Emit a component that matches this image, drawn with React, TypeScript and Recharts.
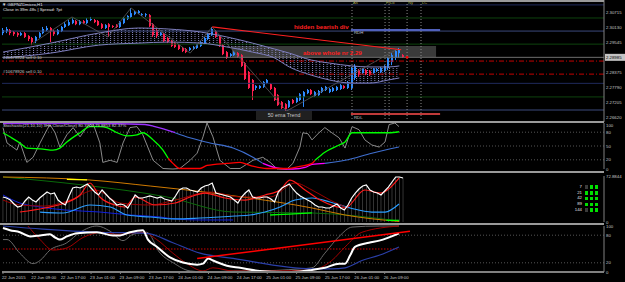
import React from 'react';
import {
  ComposedChart,
  Bar,
  Line,
  Area,
  XAxis,
  YAxis,
  ReferenceLine,
  ReferenceArea,
  ReferenceDot,
} from 'recharts';

// H1 bars, bar 0 = 22 Jun 01:00
const timeTicks = [0, 8, 16, 24, 32, 40, 48, 56, 64, 72, 80, 88, 96, 104];
const timeLabels = [
  '22 Jun 2015', '22 Jun 09:00', '22 Jun 17:00', '23 Jun 01:00', '23 Jun 09:00',
  '23 Jun 17:00', '24 Jun 01:00', '24 Jun 09:00', '24 Jun 17:00', '25 Jun 01:00',
  '25 Jun 09:00', '25 Jun 17:00', '26 Jun 01:00', '26 Jun 09:00',
];

// ---- GBPNZD H1 candles ----
const opens = [
  2.2993, 2.3001, 2.3005, 2.2997, 2.2993, 2.2985, 2.2993, 2.2982, 2.2974, 2.2962,
  2.2978, 2.2993, 2.3005, 2.3013, 2.3001, 2.2989, 2.3001, 2.3017, 2.3024, 2.3032,
  2.3040, 2.3028, 2.3040, 2.3032, 2.3044, 2.3044, 2.3040, 2.3028, 2.3013, 2.3028,
  2.3021, 2.3024, 2.3017, 2.3032, 2.3048, 2.3056, 2.3067, 2.3071, 2.3063, 2.3063,
  2.3063, 2.3028, 2.3005, 2.2985, 2.2989, 2.2974, 2.2962, 2.2954, 2.2946, 2.2935,
  2.2931, 2.2927, 2.2931, 2.2935, 2.2943, 2.2954, 2.2970, 2.2985, 2.3001, 2.2978,
  2.2946, 2.2919, 2.2904, 2.2907, 2.2915, 2.2907, 2.2876, 2.2841, 2.2810, 2.2779,
  2.2779, 2.2783, 2.2798, 2.2794, 2.2779, 2.2751, 2.2724, 2.2716, 2.2705, 2.2732,
  2.2724, 2.2732, 2.2744, 2.2759, 2.2771, 2.2748, 2.2751, 2.2763, 2.2771, 2.2763,
  2.2767, 2.2771, 2.2775, 2.2787, 2.2779, 2.2779, 2.2818, 2.2849, 2.2837, 2.2849,
  2.2845, 2.2837, 2.2845, 2.2841, 2.2845, 2.2857, 2.2880, 2.2896, 2.2915, 2.2907,
];
const highs = [
  2.3013, 2.3017, 2.3009, 2.3001, 2.2997, 2.2997, 2.2997, 2.2985, 2.2978, 2.2982,
  2.2997, 2.3017, 2.3021, 2.3017, 2.3005, 2.3009, 2.3021, 2.3036, 2.3044, 2.3052,
  2.3044, 2.3044, 2.3044, 2.3052, 2.3056, 2.3048, 2.3044, 2.3032, 2.3028, 2.3032,
  2.3024, 2.3028, 2.3040, 2.3056, 2.3063, 2.3091, 2.3079, 2.3083, 2.3071, 2.3071,
  2.3067, 2.3032, 2.3009, 2.2997, 2.2993, 2.2978, 2.2966, 2.2958, 2.2950, 2.2939,
  2.2935, 2.2939, 2.2943, 2.2950, 2.2962, 2.2978, 2.2993, 2.3017, 2.3005, 2.2982,
  2.2950, 2.2923, 2.2915, 2.2923, 2.2919, 2.2911, 2.2880, 2.2845, 2.2814, 2.2790,
  2.2790, 2.2806, 2.2814, 2.2798, 2.2783, 2.2755, 2.2728, 2.2720, 2.2732, 2.2736,
  2.2744, 2.2759, 2.2767, 2.2775, 2.2775, 2.2767, 2.2771, 2.2783, 2.2787, 2.2779,
  2.2783, 2.2787, 2.2794, 2.2790, 2.2806, 2.2861, 2.2872, 2.2853, 2.2857, 2.2853,
  2.2849, 2.2857, 2.2857, 2.2861, 2.2868, 2.2900, 2.2915, 2.2927, 2.2935, 2.2911,
];
const lows = [
  2.2985, 2.2993, 2.2985, 2.2982, 2.2978, 2.2982, 2.2974, 2.2962, 2.2946, 2.2954,
  2.2974, 2.2989, 2.3001, 2.2958, 2.2982, 2.2985, 2.2997, 2.3013, 2.3021, 2.3028,
  2.3024, 2.3024, 2.3028, 2.3028, 2.3040, 2.3032, 2.3021, 2.3009, 2.3009, 2.2978,
  2.3013, 2.3013, 2.3013, 2.3028, 2.3044, 2.3052, 2.3063, 2.3067, 2.3060, 2.3056,
  2.3017, 2.2978, 2.2974, 2.2982, 2.2958, 2.2954, 2.2939, 2.2935, 2.2927, 2.2919,
  2.2915, 2.2923, 2.2927, 2.2931, 2.2939, 2.2950, 2.2966, 2.2982, 2.2974, 2.2939,
  2.2907, 2.2892, 2.2900, 2.2904, 2.2896, 2.2861, 2.2810, 2.2775, 2.2732, 2.2771,
  2.2775, 2.2779, 2.2794, 2.2771, 2.2728, 2.2709, 2.2697, 2.2689, 2.2701, 2.2716,
  2.2720, 2.2728, 2.2705, 2.2755, 2.2751, 2.2744, 2.2748, 2.2759, 2.2767, 2.2759,
  2.2763, 2.2767, 2.2771, 2.2775, 2.2775, 2.2771, 2.2810, 2.2822, 2.2833, 2.2829,
  2.2826, 2.2833, 2.2841, 2.2837, 2.2841, 2.2849, 2.2868, 2.2888, 2.2896, 2.2896,
];
const closes = [
  2.3005, 2.3009, 2.2993, 2.2989, 2.2985, 2.2993, 2.2978, 2.2970, 2.2958, 2.2978,
  2.2993, 2.3009, 2.3013, 2.3001, 2.2989, 2.3005, 2.3017, 2.3028, 2.3036, 2.3044,
  2.3028, 2.3040, 2.3032, 2.3044, 2.3048, 2.3036, 2.3024, 2.3013, 2.3024, 2.3017,
  2.3017, 2.3017, 2.3036, 2.3052, 2.3060, 2.3071, 2.3075, 2.3079, 2.3067, 2.3067,
  2.3021, 2.2985, 2.2982, 2.2993, 2.2962, 2.2958, 2.2943, 2.2939, 2.2931, 2.2923,
  2.2919, 2.2935, 2.2939, 2.2946, 2.2958, 2.2974, 2.2989, 2.3009, 2.2978, 2.2943,
  2.2911, 2.2896, 2.2911, 2.2919, 2.2900, 2.2865, 2.2814, 2.2779, 2.2767, 2.2787,
  2.2787, 2.2802, 2.2810, 2.2775, 2.2732, 2.2712, 2.2701, 2.2697, 2.2728, 2.2720,
  2.2740, 2.2755, 2.2763, 2.2771, 2.2755, 2.2763, 2.2767, 2.2779, 2.2783, 2.2775,
  2.2779, 2.2783, 2.2790, 2.2779, 2.2802, 2.2857, 2.2865, 2.2829, 2.2853, 2.2833,
  2.2829, 2.2853, 2.2853, 2.2857, 2.2865, 2.2896, 2.2907, 2.2923, 2.2927, 2.2899,
];

const priceTicks = [2.2662, 2.27205, 2.2779, 2.28375, 2.28985, 2.29545, 2.3013, 2.30715];
const bidPrice = 2.28985;

// cloud band (upper / lower edge) keypoints by bar index
const cloudX = [0, 13, 26, 37, 45, 54, 61, 68, 74, 78, 84, 89, 95, 100, 105, 108];
const cloudHi = [2.2919, 2.2954, 2.2993, 2.3013, 2.3009, 2.2997, 2.2978, 2.2954, 2.2931, 2.2915, 2.2888, 2.2876, 2.2865, 2.2861, 2.2861, 2.2865];
const cloudLo = [2.2896, 2.2915, 2.2946, 2.2954, 2.2958, 2.2954, 2.2939, 2.2919, 2.2896, 2.2861, 2.2829, 2.2810, 2.2798, 2.2798, 2.2810, 2.2818];

const zigzagX = [8.2, 18.8, 28.6, 34.9, 51, 57, 77.3, 107.5];
const zigzagP = [2.2954, 2.3056, 2.2978, 2.3091, 2.2915, 2.3017, 2.2689, 2.2931];

const navyLevels = [2.3103, 2.2797];
const greenLevels = [2.3052, 2.295, 2.2744];
const slateLevels = [2.3001, 2.2693];
const sellOrders = [2.2884, 2.2833];
const rdh = 2.3005;
const rdl = 2.2677;
const sessionX = [95.1, 104.1, 105.2, 110.1, 113.9];
const sessionNames = ['As', 'Fr', 'Lo', 'Ny', 'LC'];

// ---- stochastic panel ----
const stochFastX = [0, 1.1, 3.8, 4.6, 6.5, 8.2, 10.1, 12, 12.8, 14.2, 15.5, 17.4, 19.1, 21, 22.9, 24.5, 26.4, 27.2, 29.2, 31.1, 32.7, 34.6, 36.5, 38.1, 40.9, 43.6, 46.3, 48.2, 51, 52.9, 54.5, 55.6, 57.2, 59.1, 61.9, 64.6, 68.1, 70.8, 72.8, 74.7, 77.4, 79, 80.9, 81.7, 83.1, 84.2, 86.1, 87.7, 89.6, 91.6, 93.2, 95.1, 97, 98.6, 100.5, 102.5, 104.1, 105.2, 106.8, 107.9];
const stochFastV = [90, 56.6, 41.1, 58.8, 14.4, 25.5, 56.6, 85.5, 96.6, 78.8, 47.7, 74.4, 90, 70, 92.1, 100, 56.6, 14.4, 18.9, 14.4, 56.6, 90, 92.1, 74.4, 18.9, 1.1, 0, 1.1, 18.9, 34.4, 70, 100, 70, 18.9, 1.1, 1.1, 18.9, 25.5, 14.4, 0, 0, 12.2, 47.7, 78.8, 76.6, 63.3, 78.8, 90, 78.8, 67.7, 45.5, 92.1, 85.5, 63.3, 52.2, 47.7, 58.8, 96.6, 100, 92.1];
const stochMainX = [0, 1.9, 4.6, 6.5, 10.9, 13.6, 15.5, 17.4, 21, 23.7, 26.4, 28.3, 31.1, 33.8, 36.5, 38.1, 40.9, 43.6, 45, 46.3, 48.2, 53.7, 55.6, 61, 64.6, 67.3, 71.9, 77.4, 80.9, 84.2, 85, 87.7, 91.6, 93.2, 95.1, 97.8, 105.2, 107.9];
const stochMainV = [78.8, 70, 56.6, 45.5, 43.3, 41.1, 45.5, 58.8, 78.8, 92.1, 92.1, 89.9, 78.8, 72.2, 74.4, 78.8, 63.3, 41.1, 23.3, 12.2, 1.1, 1.1, 7.8, 12.2, 14.4, 7.8, 1.1, 1.1, 5.6, 12.2, 18.9, 36.6, 52.2, 58.8, 78.8, 78.8, 78.8, 81];
const stochSlowX = [0, 13.6, 26.4, 38.7, 41.4, 46.9, 50.9, 56.4, 62.7, 68.1, 70.8, 75.5, 79, 82.3, 84.2, 87.7, 93.2, 100.5, 107.9];
const stochSlowV = [98.9, 98.9, 98.9, 96.7, 92.2, 78.9, 67.8, 56.7, 45.6, 25.6, 12.2, 1.1, 0, 3.3, 10, 12.2, 18.9, 34.4, 47.8];
const stochLevels = [20, 50, 80];

// ---- strength histogram panel ----
const histValues = [
  39.6, 38.0, 34.8, 28.5, 23.8, 25.3, 33.3, 39.6, 34.8, 31.7,
  38.0, 42.8, 47.5, 44.4, 45.9, 34.8, 30.1, 26.9, 41.2, 53.9,
  55.4, 53.9, 57.0, 60.2, 53.9, 47.5, 42.8, 50.7, 44.4, 38.0,
  33.3, 26.9, 28.5, 26.9, 22.2, 31.7, 42.8, 38.0, 38.0, 39.6,
  41.2, 39.6, 38.0, 39.6, 36.4, 34.8, 33.3, 41.2, 50.7, 53.9,
  53.9, 50.7, 49.1, 47.5, 53.9, 57.0, 58.6, 61.8, 45.9, 44.4,
  42.8, 41.2, 39.6, 34.8, 30.1, 39.6, 45.9, 50.7, 39.6, 38.0,
  38.0, 39.6, 39.6, 36.4, 31.7, 47.5, 53.9, 57.0, 60.2, 52.3,
  45.9, 41.2, 38.0, 34.8, 31.7, 26.9, 23.8, 23.8, 22.2, 22.2,
  25.3, 28.5, 22.2, 19.0, 26.9, 38.0, 45.9, 52.3, 57.0, 58.6,
  50.7, 47.5, 45.9, 42.8, 49.1, 55.4, 63.4, 71.3, 71.3, 69.7,
];
const histMax = 72.8844;
const redX = [4.6, 11.4, 16.9, 21, 23.7, 26.4, 30.5, 33.2, 36, 41.4, 46.9, 51, 55, 60.5, 65.9, 71.4, 75.5, 78.2, 82.3, 86.4, 93.2, 98.6, 102.7, 107.9];
const redV = [15.8, 22.2, 30.1, 42.8, 61.8, 39.6, 26.9, 23.8, 39.6, 26.9, 30.1, 39.6, 45.9, 38.0, 34.8, 42.8, 50.7, 66.5, 50.7, 34.8, 22.2, 50.7, 45.9, 69.7];
const darkRedX = [0, 4.6, 11.4, 18.3, 25.1, 31.9, 40.1, 46.9, 56.4, 64.6, 72.8, 79.6, 84.2, 89.1, 93.2];
const darkRedV = [34.8, 26.9, 25.3, 34.8, 50.7, 30.1, 26.9, 34.8, 47.5, 39.6, 39.6, 61.8, 50.7, 34.8, 23.8];
const navyX = [0, 4.6, 10.1, 16.9, 26.4, 34.6, 42.8, 46.9, 53.7, 62.7];
const navyV = [42.8, 30.1, 23.8, 19.0, 15.8, 11.1, 7.9, 4.8, 3.2, 3.2];
const skyX = [10.1, 16.4, 23.7, 29.2, 33.8, 40.1, 46.9, 53.7, 63.2, 67.3, 71.4, 75.5, 79.6, 84.2, 89.1, 94.6, 100.5, 104.1, 107.9];
const skyV = [15.8, 14.3, 26.9, 23.8, 11.1, 7.9, 4.8, 6.3, 9.5, 11.1, 15.8, 23.8, 34.8, 38.0, 31.7, 22.2, 15.8, 15.8, 28.5];
const orangeX = [0, 23.7, 40.1, 57.2, 67.3, 84.2, 93.2, 107.9];
const orangeV = [71.3, 66.5, 57.0, 45.9, 38.0, 22.2, 11.1, 0.8];
const darkGreenX = [0, 21.8, 44.7, 62.7, 84.2, 107.9];
const darkGreenV = [71.3, 58.6, 39.6, 15.8, 14.3, 1.6];
const limeX = [72.8, 78, 84.2];
const limeV = [11.1, 12.5, 14.3];
const limeEndX = [104.5, 107.9];
const limeEndV = [2.6, 2.6];
const yellowX = [17.4, 22.9];
const yellowV = [67.5, 66.8];
const maPeriods = ['7', '21', '42', '89', '144'];
const maUp = [
  [false, true, true],
  [true, true, true],
  [true, true, true],
  [true, true, true],
  [false, true, true],
];

// ---- RSI-style bottom panel ----
const whiteX = [0, 1.9, 4.6, 7.4, 10.1, 12.8, 14.2, 15.5, 17.4, 20.2, 25.6, 30, 31.9, 34.6, 38.1, 39.5, 42, 45.5, 49, 52.9, 54.5, 55.9, 57.2, 61, 64.6, 70, 76.3, 80.9, 84.2, 87.7, 91.6, 93.2, 94.6, 95.9, 99.7, 102.5, 107.9];
const whiteV = [95.5, 90.9, 86.4, 77.3, 79.5, 81.8, 75, 70.5, 77.3, 84.1, 86.4, 79.5, 79.5, 86.4, 90.9, 70.5, 54.5, 31.8, 20.5, 15.9, 18.2, 29.5, 25, 13.6, 9.1, 2.3, 0, 1.1, 4.5, 9.1, 18.2, 18.2, 36.4, 54.5, 63.6, 68.2, 84.1];
const blueX = [0, 10.9, 26.4, 39.2, 46.3, 53.7, 62.7, 84.2, 89.6, 93.2, 97.8, 102.5, 107.9];
const blueV = [100, 93.2, 86.4, 84.1, 63.6, 40.9, 29.5, 6.8, 6.8, 9.1, 25, 36.4, 54.5];
const maroonX = [6.8, 10.1, 13.6, 17.4, 21.8, 27.2, 31.1, 38.1, 41.9, 46.3, 50.1, 54.5, 57.2, 62.7, 72.8, 84.2, 89.6, 93.2, 97.8, 107.9];
const maroonV = [100, 70.5, 47.7, 52.3, 75, 86.4, 81.8, 86.4, 70.5, 40.9, 18.2, 2.3, 9.1, 2.3, 2.3, 4.5, 25, 54.5, 86.4, 100];
const grayX = [0, 1.1, 4.6, 8.2, 10.1, 12.8, 17.4, 21, 25.6, 29.2, 32.7, 35.4, 39.2, 42.8, 46.3, 51, 55.6, 62.7, 68.1, 80.9, 84.2, 87.7, 91.6, 95.1, 102.5, 107.9];
const grayV = [70.5, 70.5, 40.9, 18.2, 25, 47.7, 63.6, 86.4, 100, 88.6, 68.2, 81.8, 86.4, 40.9, 20.5, 2.3, 0, 2.3, 2.3, 6.8, 9.1, 40.9, 77.3, 97.7, 100, 100];
const trendFrom = { i: 52.9, v: 29.5 };
const trendTo = { i: 110.9, v: 88.6 };

const FONT = '"Liberation Sans", Arial, sans-serif';
const AXIS_TEXT = '#c8c8c8';
const X_DOMAIN: [number, number] = [-0.27, 163.76];
const LINE_OFF = { dot: false, activeDot: false, isAnimationActive: false } as const;

type Row = { i: number; v: number };
const toRows = (xs: number[], vs: number[]): Row[] => xs.map((i, k) => ({ i, v: vs[k] }));
const between = (rows: Row[], a: number, b: number) => rows.filter((r) => r.i >= a && r.i <= b);

const candleRows = opens.map((o, i) => ({ i, o, h: highs[i], l: lows[i], c: closes[i] }));
const cloudRows = cloudX.map((i, k) => ({ i, lo: cloudLo[k], hi: cloudHi[k] }));
const histRows = histValues.map((v, i) => ({ i, v }));
const stochMain = toRows(stochMainX, stochMainV);
const stochSlow = toRows(stochSlowX, stochSlowV);

function Candle(props: any) {
  const { x, y, width, height, payload } = props;
  if (!payload || x == null) return null;
  const top = Math.min(y, y + height);
  const bottom = Math.max(y, y + height);
  const range = payload.h - payload.l;
  const k = range > 0 ? (bottom - top) / range : 0;
  const yOpen = top + (payload.h - payload.o) * k;
  const yClose = top + (payload.h - payload.c) * k;
  const color = payload.c >= payload.o ? '#2e8bff' : '#ff1f4f';
  const cx = Math.round(x + width / 2);
  return (
    <g>
      <line x1={cx - 0.5} x2={cx - 0.5} y1={top} y2={bottom} stroke={color} strokeWidth={1} />
      <rect
        x={cx - 1}
        y={Math.min(yOpen, yClose)}
        width={2}
        height={Math.max(1, Math.abs(yClose - yOpen))}
        fill={color}
      />
    </g>
  );
}

function PriceTick(props: any) {
  const { x, y, payload } = props;
  const v = payload.value as number;
  const isBid = Math.abs(v - bidPrice) < 1e-7;
  return (
    <g>
      {isBid && <rect x={x - 1} y={y - 3.5} width={22} height={7} fill="#c4c4c4" />}
      <text x={x} y={y + 1.5} fontSize={4.3} fontFamily={FONT} fill={isBid ? '#000' : AXIS_TEXT}>
        {v.toFixed(5)}
      </text>
    </g>
  );
}

function ValueTick(props: any) {
  const { x, y, payload } = props;
  // keep the top label inside its panel
  return (
    <text x={x} y={Math.max(y + 1.5, 4.2)} fontSize={4.3} fontFamily={FONT} fill={AXIS_TEXT}>
      {String(payload.value)}
    </text>
  );
}

function TimeTick(props: any) {
  const { x, y, payload } = props;
  const idx = timeTicks.indexOf(payload.value);
  return (
    <text x={x - 1} y={y + 5} fontSize={4.3} fontFamily={FONT} fill={AXIS_TEXT}>
      {timeLabels[idx]}
    </text>
  );
}

const label = (left: number, top: number, size: number, color: string, extra = {}) =>
  ({
    position: 'absolute',
    left,
    top,
    fontSize: size,
    color,
    fontFamily: FONT,
    lineHeight: 1,
    whiteSpace: 'nowrap',
    ...extra,
  }) as React.CSSProperties;

function PricePanel() {
  return (
    <ComposedChart width={625} height={122} data={candleRows} margin={{ top: 0, right: 0, bottom: 0, left: 2 }}>
      <defs>
        <pattern id="cloudDots" width={3.67} height={2} patternUnits="userSpaceOnUse">
          <rect x={0} y={0} width={1} height={1} fill="#8a8ac4" />
        </pattern>
      </defs>
      <XAxis dataKey="i" type="number" domain={X_DOMAIN} allowDataOverflow hide />
      <YAxis
        orientation="right"
        width={21}
        domain={[2.26462, 2.31222]}
        allowDataOverflow
        ticks={priceTicks}
        interval={0}
        tick={PriceTick}
        tickSize={0}
        tickMargin={2}
        tickLine={false}
        axisLine={{ stroke: '#808080' }}
      />
      {navyLevels.map((p) => (
        <ReferenceLine key={`n${p}`} y={p} stroke="#1f2a5c" />
      ))}
      {greenLevels.map((p) => (
        <ReferenceLine key={`g${p}`} y={p} stroke="#0e430e" />
      ))}
      {slateLevels.map((p) => (
        <ReferenceLine key={`s${p}`} y={p} stroke="#3c4a7c" />
      ))}
      <ReferenceLine y={bidPrice} stroke="#6e6e6e" />
      {sellOrders.map((p) => (
        <ReferenceLine key={`o${p}`} y={p} stroke="#c40000" strokeDasharray="5 2 1 2" />
      ))}
      <ReferenceArea x1={62.4} x2={118} y1={2.29} y2={2.2943} fill="#3a3a3a" fillOpacity={1} stroke="none" />
      {sessionX.map((x) => (
        <ReferenceLine key={`v${x}`} x={x} stroke="#8a8a8a" strokeDasharray="1 2" />
      ))}
      <Area
        data={cloudRows}
        dataKey={(d: any) => [d.lo, d.hi]}
        type="monotone"
        fill="url(#cloudDots)"
        fillOpacity={1}
        stroke="none"
        isAnimationActive={false}
        activeDot={false}
      />
      <Line data={cloudRows} dataKey="hi" type="monotone" stroke="#7f7fbf" strokeWidth={1} {...LINE_OFF} />
      <Line data={cloudRows} dataKey="lo" type="monotone" stroke="#7f7fbf" strokeWidth={1} {...LINE_OFF} />
      <Line data={toRows(zigzagX, zigzagP)} dataKey="v" type="linear" stroke="#5a5a5a" strokeWidth={0.8} {...LINE_OFF} />
      <Bar dataKey={(d: any) => [d.l, d.h]} barSize={3} shape={Candle} isAnimationActive={false} />
      <ReferenceLine
        segment={[{ x: 57, y: 2.3017 }, { x: 108.5, y: 2.2928 }]}
        stroke="#ff2020"
        strokeWidth={1.2}
      />
      <ReferenceLine segment={[{ x: 94.8, y: rdh }, { x: 119.1, y: rdh }]} stroke="#5060bb" strokeWidth={2} />
      <ReferenceLine segment={[{ x: 94.8, y: rdl }, { x: 119.1, y: rdl }]} stroke="#c03a3a" strokeWidth={2} />
      <ReferenceDot x={110.1} y={bidPrice} r={1.4} fill="#ff0000" stroke="none" />
    </ComposedChart>
  );
}

function StochPanel() {
  return (
    <ComposedChart width={625} height={49} data={toRows(stochFastX, stochFastV)} margin={{ top: 0, right: 0, bottom: 3, left: 2 }}>
      <XAxis dataKey="i" type="number" domain={X_DOMAIN} allowDataOverflow hide />
      <YAxis
        orientation="right"
        width={21}
        domain={[0, 100]}
        ticks={[0, 20, 50, 80, 100]}
        interval={0}
        tick={ValueTick}
        tickSize={0}
        tickMargin={2}
        tickLine={false}
        axisLine={{ stroke: '#808080' }}
      />
      {stochLevels.map((v) => (
        <ReferenceLine key={v} y={v} stroke="#555" strokeDasharray="1 2" />
      ))}
      <Line dataKey="v" type="linear" stroke="#9a9a9a" strokeWidth={0.9} {...LINE_OFF} />
      <Line data={between(stochSlow, 0, 46.9)} dataKey="v" type="monotone" stroke="#9b30ff" strokeWidth={1.3} {...LINE_OFF} />
      <Line data={between(stochSlow, 46.9, 70.8)} dataKey="v" type="monotone" stroke="#3f6fd0" strokeWidth={1.1} {...LINE_OFF} />
      <Line data={between(stochSlow, 70.8, 87.7)} dataKey="v" type="monotone" stroke="#ff00ff" strokeWidth={1.3} {...LINE_OFF} />
      <Line data={between(stochSlow, 87.7, 110)} dataKey="v" type="monotone" stroke="#3f6fd0" strokeWidth={1.1} {...LINE_OFF} />
      <Line data={between(stochMain, 0, 45)} dataKey="v" type="monotone" stroke="#00ff00" strokeWidth={1.3} {...LINE_OFF} />
      <Line data={between(stochMain, 45, 85)} dataKey="v" type="monotone" stroke="#ff0000" strokeWidth={1.3} {...LINE_OFF} />
      <Line data={between(stochMain, 85, 110)} dataKey="v" type="monotone" stroke="#00ff00" strokeWidth={1.3} {...LINE_OFF} />
    </ComposedChart>
  );
}

function StrengthPanel() {
  return (
    <ComposedChart width={625} height={51} data={histRows} margin={{ top: 3, right: 0, bottom: 2, left: 2 }}>
      <XAxis dataKey="i" type="number" domain={X_DOMAIN} allowDataOverflow hide />
      <YAxis
        orientation="right"
        width={21}
        domain={[0, histMax]}
        ticks={[0, histMax]}
        interval={0}
        tick={ValueTick}
        tickSize={0}
        tickMargin={2}
        tickLine={false}
        axisLine={{ stroke: '#808080' }}
      />
      <Bar dataKey="v" barSize={1} fill="#9a9a9a" isAnimationActive={false} />
      <Line data={toRows(darkGreenX, darkGreenV)} dataKey="v" type="monotone" stroke="#0a6a0a" strokeWidth={1} {...LINE_OFF} />
      <Line data={toRows(orangeX, orangeV)} dataKey="v" type="monotone" stroke="#d07a00" strokeWidth={1} {...LINE_OFF} />
      <Line data={toRows(yellowX, yellowV)} dataKey="v" type="monotone" stroke="#ffff00" strokeWidth={1.2} {...LINE_OFF} />
      <Line data={toRows(navyX, navyV)} dataKey="v" type="monotone" stroke="#1020e0" strokeWidth={1} {...LINE_OFF} />
      <Line data={toRows(skyX, skyV)} dataKey="v" type="monotone" stroke="#2a9dff" strokeWidth={1.2} {...LINE_OFF} />
      <Line data={toRows(darkRedX, darkRedV)} dataKey="v" type="monotone" stroke="#9a0000" strokeWidth={1} {...LINE_OFF} />
      <Line data={toRows(redX, redV)} dataKey="v" type="monotone" stroke="#ff1a1a" strokeWidth={1.2} {...LINE_OFF} />
      <Line data={toRows(limeX, limeV)} dataKey="v" type="monotone" stroke="#00ff00" strokeWidth={1.3} {...LINE_OFF} />
      <Line data={toRows(limeEndX, limeEndV)} dataKey="v" type="monotone" stroke="#00ff00" strokeWidth={1.3} {...LINE_OFF} />
      <Line dataKey="v" type="linear" stroke="#ffffff" strokeWidth={1.2} {...LINE_OFF} />
    </ComposedChart>
  );
}

function OscPanel() {
  return (
    <ComposedChart width={625} height={58} data={toRows(whiteX, whiteV)} margin={{ top: 2, right: 0, bottom: 0, left: 2 }}>
      <XAxis
        dataKey="i"
        type="number"
        domain={X_DOMAIN}
        allowDataOverflow
        ticks={timeTicks}
        interval={0}
        height={10}
        tick={TimeTick}
        tickSize={2}
        tickMargin={0}
        tickLine={{ stroke: '#808080' }}
        axisLine={{ stroke: '#808080', strokeWidth: 2 }}
      />
      <YAxis
        orientation="right"
        width={21}
        domain={[0, 100]}
        ticks={[0, 20, 80, 100]}
        interval={0}
        tick={ValueTick}
        tickSize={0}
        tickMargin={2}
        tickLine={false}
        axisLine={{ stroke: '#808080' }}
      />
      <ReferenceLine y={80} stroke="#555" strokeDasharray="1 2" />
      <ReferenceLine y={20} stroke="#555" strokeDasharray="1 2" />
      <ReferenceLine segment={[{ x: 0, y: 50 }, { x: 108, y: 50 }]} stroke="#d00000" strokeDasharray="1.5 1.5" />
      <Line data={toRows(grayX, grayV)} dataKey="v" type="monotone" stroke="#6a6a6a" strokeWidth={1} {...LINE_OFF} />
      <Line data={toRows(maroonX, maroonV)} dataKey="v" type="monotone" stroke="#a00000" strokeWidth={1} {...LINE_OFF} />
      <Line data={toRows(blueX, blueV)} dataKey="v" type="monotone" stroke="#2a3fa8" strokeWidth={1.2} {...LINE_OFF} />
      <Line dataKey="v" type="monotone" stroke="#ffffff" strokeWidth={2} {...LINE_OFF} />
      <ReferenceLine
        segment={[{ x: trendFrom.i, y: trendFrom.v }, { x: trendTo.i, y: trendTo.v }]}
        stroke="#ff0000"
        strokeWidth={1.5}
      />
    </ComposedChart>
  );
}

export default function App() {
  const sep = (top: number): React.CSSProperties => ({
    position: 'absolute',
    left: 0,
    top,
    width: 604,
    height: 2,
    background: '#9a9a9a',
  });
  return (
    <div style={{ position: 'absolute', left: 0, top: 0, width: 625, height: 282, background: '#000', overflow: 'hidden' }}>
      <div style={{ position: 'absolute', left: 0, top: 0 }}>
        <PricePanel />
      </div>
      <div style={{ position: 'absolute', left: 0, top: 123 }}>
        <StochPanel />
      </div>
      <div style={{ position: 'absolute', left: 0, top: 173 }}>
        <StrengthPanel />
      </div>
      <div style={{ position: 'absolute', left: 0, top: 224 }}>
        <OscPanel />
      </div>

      <div style={sep(0)} />
      <div style={sep(121)} />
      <div style={sep(171)} />
      <div style={sep(223)} />

      {/* price panel texts */}
      <div style={label(2, 2.5, 4.3, '#e0e0e0')}>▼ GBPNZDmicro,H1</div>
      <div style={label(3, 8, 4.3, '#e0e0e0')}>Close in 39m 48s | Spread: 7pt</div>
      <div style={label(3, 55.5, 4.3, '#c8c8c8')}>#10678924 sell 0.10</div>
      <div style={label(3, 69.5, 4.3, '#c8c8c8')}>#10678926 sell 0.10</div>
      <div style={label(294, 24, 6.2, '#ff2020', { fontWeight: 700 })}>hidden bearish div</div>
      <div style={label(303, 49.5, 6.2, '#ff2020', { fontWeight: 700 })}>above whole nr 2.29</div>
      <div style={label(354, 31, 4.3, '#c8c8c8')}>RDH</div>
      <div style={label(354, 115.5, 4.3, '#c8c8c8')}>RDL</div>
      <div
        style={label(256, 111, 5.3, '#c8c8c8', {
          width: 56,
          height: 9,
          lineHeight: '9px',
          textAlign: 'center',
          background: '#202020',
        })}
      >
        50 ema Trend
      </div>
      {sessionNames.map((n, k) => (
        <div key={n} style={label(3 + sessionX[k] * 3.67 + 1, 1, 4, '#a8a850')}>
          {n}
        </div>
      ))}

      {/* stochastic title */}
      <div style={label(3, 124, 4.3, '#d0d0d0')}>
        Stochastic(21,10,10) 3Hx Close/Close) 80.3706 79.8853 82.37%
      </div>

      {/* MA alignment widget */}
      {maPeriods.map((p, r) => (
        <React.Fragment key={p}>
          <div style={label(560, 184.8 + r * 5.75, 4.3, '#e0e0e0', { width: 22, textAlign: 'right' })}>{p}</div>
          {maUp[r].map((on, c) => (
            <div
              key={c}
              style={{
                position: 'absolute',
                left: 584.5 + c * 5.2,
                top: 185.3 + r * 5.75,
                width: 3.5,
                height: 3.5,
                background: on ? '#00e000' : '#3a3a3a',
              }}
            />
          ))}
        </React.Fragment>
      ))}
    </div>
  );
}
